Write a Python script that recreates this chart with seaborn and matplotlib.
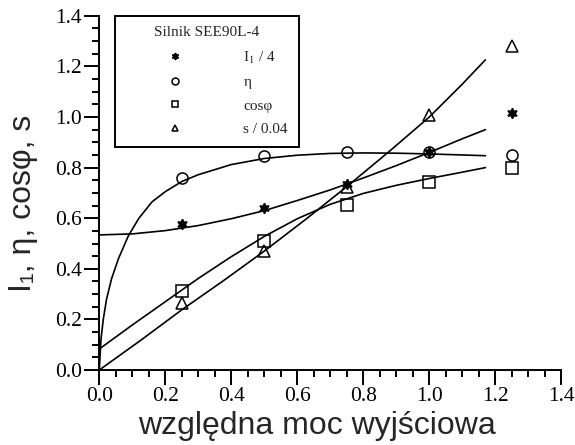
import numpy as np
import pandas as pd
import matplotlib
matplotlib.use("Agg")
import matplotlib.pyplot as plt
from matplotlib.lines import Line2D
from matplotlib.ticker import MultipleLocator, FormatStrFormatter
import seaborn as sns

# ---- measured points (relative output power) ----
p_meas = [0.25, 0.5, 0.75, 1.0, 1.25]
i1_meas = [0.578, 0.640, 0.737, 0.860, 1.016]     # I1 / 4
eta_meas = [0.757, 0.847, 0.860, 0.860, 0.850]    # efficiency
cos_meas = [0.312, 0.511, 0.651, 0.744, 0.797]    # power factor
s_meas = [0.263, 0.471, 0.724, 1.007, 1.28]       # slip / 0.04

# ---- calculated characteristics (curves) ----
eta_x = [0.0, 0.005, 0.012, 0.022, 0.037, 0.058, 0.088, 0.12, 0.16, 0.2,
         0.25, 0.3, 0.4, 0.5, 0.6, 0.7, 0.8, 0.9, 1.0, 1.1, 1.17]
eta_y = [0.0, 0.12, 0.20, 0.28, 0.36, 0.44, 0.53, 0.60, 0.665, 0.705,
         0.745, 0.772, 0.812, 0.836, 0.849, 0.856, 0.858, 0.857, 0.854, 0.850, 0.847]

i1_x = [0.0, 0.1, 0.2, 0.3, 0.4, 0.5, 0.6, 0.7, 0.8, 0.9, 1.0, 1.1, 1.17]
i1_y = [0.534, 0.538, 0.551, 0.571, 0.598, 0.630, 0.670, 0.712, 0.759, 0.808,
        0.860, 0.914, 0.950]

cos_x = [0.0, 0.1, 0.2, 0.3, 0.4, 0.5, 0.6, 0.7, 0.8, 0.9, 1.0, 1.1, 1.17]
cos_y = [0.083, 0.178, 0.270, 0.362, 0.448, 0.528, 0.598, 0.655, 0.698, 0.730,
         0.757, 0.782, 0.800]

s_x = [0.0, 0.125, 0.25, 0.375, 0.5, 0.625, 0.75, 0.875, 1.0, 1.1, 1.17]
s_y = [0.0, 0.117, 0.238, 0.352, 0.470, 0.595, 0.725, 0.860, 1.000, 1.130, 1.226]

legend_title = "Silnik SEE90L-4"
labels = ["I$_1$ / 4", "\u03b7", "cos\u03c6", "s / 0.04"]
x_label = "wzgl\u0119dna moc wyj\u015bciowa"
y_label = "I\u2081, \u03b7, cos\u03c6, s"

sns.set_style("ticks")
plt.rcParams['font.family'] = ['Liberation Serif', 'DejaVu Serif']
plt.rcParams['mathtext.fontset'] = 'stix'

fig = plt.figure(figsize=(5.75, 4.45), dpi=100)
ax = fig.add_axes([0.1727, 0.1685, 0.8035, 0.7960])

lw = 1.2
for xs, ys in [(eta_x, eta_y), (i1_x, i1_y), (cos_x, cos_y), (s_x, s_y)]:
    sns.lineplot(x=xs, y=ys, ax=ax, color="black", linewidth=lw,
                 estimator=None, sort=False)

star = (6, 1, 0)
specs = [
    (eta_meas, "o", 8.0, "none"),
    (cos_meas, "s", 8.5, "none"),
    (s_meas, "^", 8.0, "none"),
    (i1_meas, star, 7.5, "black"),
]
for ys, mk, ms, fc in specs:
    sns.lineplot(x=p_meas, y=ys, ax=ax, estimator=None, sort=False,
                 linestyle="", marker=mk, markersize=ms,
                 markerfacecolor=fc, markeredgecolor="black",
                 markeredgewidth=1.1, color="black")

ax.set_xlim(0, 1.4)
ax.set_ylim(0, 1.4)
ax.xaxis.set_major_locator(MultipleLocator(0.2))
ax.xaxis.set_minor_locator(MultipleLocator(0.05))
ax.yaxis.set_major_locator(MultipleLocator(0.2))
ax.yaxis.set_minor_locator(MultipleLocator(0.05))
ax.xaxis.set_major_formatter(FormatStrFormatter("%.1f"))
ax.yaxis.set_major_formatter(FormatStrFormatter("%.1f"))
ax.tick_params(which="major", direction="out", length=10.5, width=1.4,
               labelsize=15.5, pad=2, color="black", labelcolor="black")
ax.tick_params(which="minor", direction="out", length=5, width=1.4, color="black")
for sp in ["top", "right"]:
    ax.spines[sp].set_visible(False)
for sp in ["left", "bottom"]:
    ax.spines[sp].set_linewidth(1.4)
    ax.spines[sp].set_color("black")

ax.set_xlabel(x_label, fontsize=23, family=["Liberation Sans", "DejaVu Sans"])
ax.set_ylabel(y_label, fontsize=23, family=["Liberation Sans", "DejaVu Sans"])
ax.xaxis.set_label_coords(0.472, -0.117)
ax.yaxis.set_label_coords(-0.133, 0.47)
ax.xaxis.label.set_va("top")

handles = []
for mk, fc in [(star, "black"), ("o", "none"), ("s", "none"), ("^", "none")]:
    handles.append(Line2D([], [], linestyle="", marker=mk, markersize=5,
                          markerfacecolor=fc, markeredgecolor="black",
                          markeredgewidth=1.1))
leg = ax.legend(handles, labels, title=legend_title, loc="upper left",
                bbox_to_anchor=(0.034, 1.0), borderaxespad=0,
                handlelength=6.4, handletextpad=1.3, labelspacing=0.65,
                borderpad=0.7, frameon=True, fancybox=False, edgecolor="black",
                prop={"family": ["Liberation Serif", "DejaVu Serif"], "size": 11},
                title_fontproperties={"family": ["Liberation Serif", "DejaVu Serif"],
                                      "size": 11})
leg.get_frame().set_linewidth(1.4)
leg.get_frame().set_alpha(1)

fig.savefig("out.png", dpi=100)
